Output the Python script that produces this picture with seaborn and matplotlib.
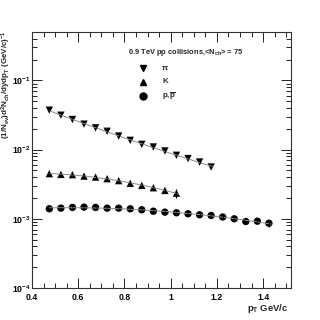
import numpy as np
import pandas as pd
import matplotlib
matplotlib.use("Agg")
import matplotlib.pyplot as plt
import matplotlib.ticker as mticker
import seaborn as sns

# ---- data ----
pt_pi = [0.475, 0.525, 0.575, 0.625, 0.675, 0.725, 0.775, 0.825, 0.875, 0.925,
         0.975, 1.025, 1.075, 1.125, 1.175]
y_pi = [0.0371, 0.0314, 0.0272, 0.0233, 0.0206, 0.0184, 0.0157, 0.0136, 0.0119, 0.0109,
        0.00955, 0.00827, 0.00741, 0.00661, 0.00560]
err_pi = [0.0008, 0.0007, 0.0006, 0.0005, 0.0004, 0.0004, 0.0003, 0.0003, 0.0003, 0.0003,
          0.0002, 0.0002, 0.0002, 0.0002, 0.0002]

pt_k = [0.475, 0.525, 0.575, 0.625, 0.675, 0.725, 0.775, 0.825, 0.875, 0.925, 0.975, 1.025]
y_k = [0.00449, 0.00438, 0.00434, 0.00414, 0.00401, 0.00380, 0.00356, 0.00325, 0.00304,
       0.00281, 0.00257, 0.00235]
err_k = [0.0001, 0.0001, 0.0001, 0.0001, 0.0001, 0.0001, 0.0001, 0.0001, 0.0001,
         0.0001, 0.00012, 0.00035]

pt_p = [0.475, 0.525, 0.575, 0.625, 0.675, 0.725, 0.775, 0.825, 0.875, 0.925,
        0.975, 1.025, 1.075, 1.125, 1.175, 1.225, 1.275, 1.325, 1.375, 1.425]
y_p = [0.001396, 0.001425, 0.001459, 0.001474, 0.001459, 0.001425, 0.001425, 0.001396,
       0.001349, 0.001288, 0.001247, 0.001222, 0.001182, 0.001142, 0.001117, 0.001062,
       0.001000, 0.000914, 0.000923, 0.000863]
err_p = [0.00003] * 19 + [0.00009]

species = ["\u03c0", "K", "p,$\\overline{\\mathrm{p}}$"]
title_text = "0.9 TeV pp collisions,<N$_{\\mathrm{ch}}$> = 75"
xlabel_text = "p$_{T}$ GeV/c"
ylabel_text = "(1/N$_{ev}$)d$^{2}$N$_{ch}$/dydp$_{T}$ (GeV/c)$^{-1}$"

frames = []
for name, xs, ys, es in [(species[0], pt_pi, y_pi, err_pi),
                         (species[1], pt_k, y_k, err_k),
                         (species[2], pt_p, y_p, err_p)]:
    frames.append(pd.DataFrame({"pt": xs, "y": ys, "err": es, "species": name}))
df = pd.concat(frames, ignore_index=True)

# ---- plotting ----
sns.set_theme(style="ticks")
plt.rcParams["font.family"] = ["Liberation Sans", "DejaVu Sans"]
plt.rcParams["font.weight"] = "bold"
plt.rcParams["mathtext.fontset"] = "custom"
plt.rcParams["mathtext.rm"] = "Liberation Sans:bold"
plt.rcParams["mathtext.it"] = "Liberation Sans:bold"
plt.rcParams["mathtext.bf"] = "Liberation Sans:bold"
plt.rcParams["mathtext.default"] = "regular"

fig = plt.figure(figsize=(3.2, 3.2), dpi=100)
ax = fig.add_axes([0.1, 0.1, 0.809, 0.8])

# fit lines (quadratic in log space)
fits = []
for name in species:
    sub = df[df.species == name]
    c = np.polyfit(sub.pt, np.log10(sub.y), 2)
    xx = np.linspace(sub.pt.min(), sub.pt.max() + 0.01, 60)
    fits.append(pd.DataFrame({"pt": xx, "y": 10 ** np.polyval(c, xx), "species": name}))
fitdf = pd.concat(fits, ignore_index=True)
sns.lineplot(data=fitdf, x="pt", y="y", units="species", estimator=None,
             color="#8c8c8c", lw=0.7, ax=ax, legend=False)

for name in species:
    sub = df[df.species == name]
    ax.errorbar(sub.pt, sub.y, yerr=sub.err, fmt="none", ecolor="black", elinewidth=0.8)

markers = {species[0]: "v", species[1]: "^", species[2]: "o"}
sns.scatterplot(data=df, x="pt", y="y", style="species", markers=markers,
                color="black", s=28, edgecolor="black", linewidth=0, ax=ax, legend=False)

ax.set_yscale("log")
ax.set_xlim(0.4, 1.52)
ax.set_ylim(1e-4, 0.5)

ax.xaxis.set_major_locator(mticker.MultipleLocator(0.2))
ax.xaxis.set_minor_locator(mticker.MultipleLocator(0.05))
ax.xaxis.set_major_formatter(mticker.FuncFormatter(lambda v, p: "1" if abs(v - 1) < 1e-9 else f"{v:.1f}"))
ax.yaxis.set_major_locator(mticker.LogLocator(base=10, numticks=10))
ax.yaxis.set_minor_locator(mticker.LogLocator(base=10, subs=np.arange(2, 10), numticks=20))
ax.yaxis.set_minor_formatter(mticker.NullFormatter())

ax.tick_params(which="both", direction="in", top=True, right=True, labelsize=6.2,
               width=0.6, colors="black")
ax.tick_params(which="major", length=7)
ax.tick_params(which="minor", length=3.5)
ax.tick_params(axis="y", pad=1.2)
for lab in ax.get_xticklabels() + ax.get_yticklabels():
    lab.set_fontweight("bold")
for s in ax.spines.values():
    s.set_linewidth(0.8)
    s.set_color("#333333")

ax.set_xlabel("")
ax.set_ylabel("")
fig.text(0.9, 0.035, xlabel_text, fontsize=6.8, fontweight="bold", ha="right", va="center")
fig.text(0.021, 0.905, ylabel_text, fontsize=5.8, fontweight="bold", ha="center", va="top",
         rotation=90)

# annotation and legend-like key
ax.text(0.37, 0.918, title_text, transform=ax.transAxes, fontsize=5.4, fontweight="bold",
        va="center", ha="left")
leg_y = [0.859, 0.805, 0.750]
for name, yy in zip(species, leg_y):
    ax.plot([0.43], [yy], transform=ax.transAxes, marker=markers[name], color="black",
            ms=5, ls="none")
    ax.text(0.503, yy, name, transform=ax.transAxes, fontsize=5.8, fontweight="bold",
            va="center", ha="left")

fig.savefig("out.png", dpi=100)
